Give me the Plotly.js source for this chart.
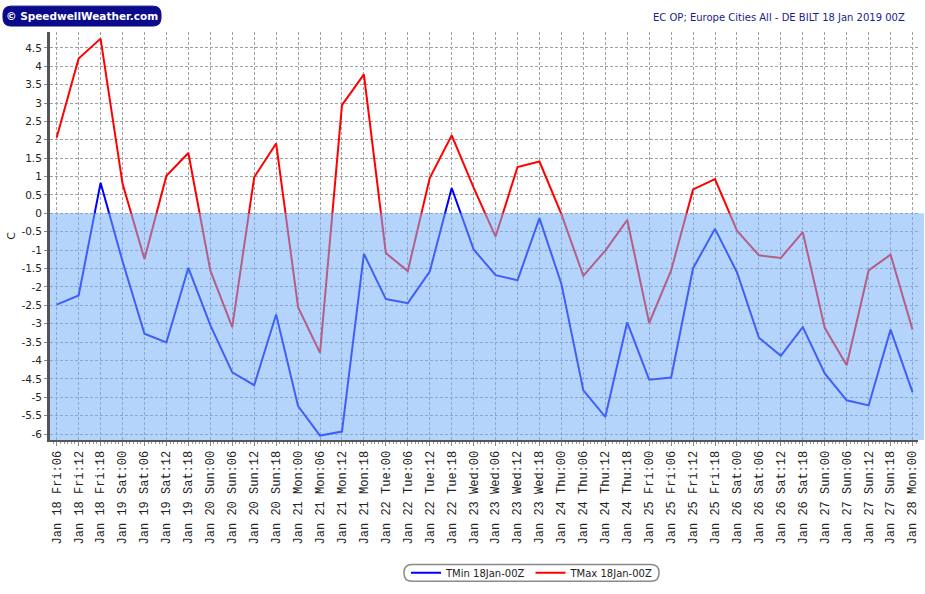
<!DOCTYPE html>
<html>
<head>
<meta charset="utf-8">
<script src="https://cdn.plot.ly/plotly-3.0.1.min.js"></script>
<style>html,body{margin:0;padding:0;background:#fff;}#chart{width:925px;height:594px;}</style>
</head>
<body>
<div id="chart"></div>
<script>
// ---- data ----
var timeLabels = [
  "Jan 18 Fri:06","Jan 18 Fri:12","Jan 18 Fri:18",
  "Jan 19 Sat:00","Jan 19 Sat:06","Jan 19 Sat:12","Jan 19 Sat:18",
  "Jan 20 Sun:00","Jan 20 Sun:06","Jan 20 Sun:12","Jan 20 Sun:18",
  "Jan 21 Mon:00","Jan 21 Mon:06","Jan 21 Mon:12","Jan 21 Mon:18",
  "Jan 22 Tue:00","Jan 22 Tue:06","Jan 22 Tue:12","Jan 22 Tue:18",
  "Jan 23 Wed:00","Jan 23 Wed:06","Jan 23 Wed:12","Jan 23 Wed:18",
  "Jan 24 Thu:00","Jan 24 Thu:06","Jan 24 Thu:12","Jan 24 Thu:18",
  "Jan 25 Fri:00","Jan 25 Fri:06","Jan 25 Fri:12","Jan 25 Fri:18",
  "Jan 26 Sat:00","Jan 26 Sat:06","Jan 26 Sat:12","Jan 26 Sat:18",
  "Jan 27 Sun:00","Jan 27 Sun:06","Jan 27 Sun:12","Jan 27 Sun:18",
  "Jan 28 Mon:00"
];
var tMin = [
  -2.48,-2.23,0.83,-1.30,-3.27,-3.51,-1.48,-3.04,-4.32,-4.67,-2.75,
  -5.24,-6.04,-5.93,-1.10,-2.33,-2.44,-1.58,0.69,-0.98,-1.68,-1.82,
  -0.13,-1.92,-4.81,-5.53,-2.96,-4.52,-4.46,-1.49,-0.42,-1.60,-3.38,
  -3.87,-3.09,-4.35,-5.08,-5.22,-3.16,-4.86
];
var tMax = [
  2.06,4.21,4.75,0.81,-1.24,1.02,1.64,-1.55,-3.09,0.98,1.90,
  -2.55,-3.79,2.94,3.78,-1.08,-1.57,0.96,2.12,0.70,-0.63,1.26,
  1.41,-0.02,-1.70,-1.01,-0.18,-2.98,-1.55,0.65,0.93,-0.47,-1.14,
  -1.21,-0.51,-3.11,-4.13,-1.55,-1.12,-3.16
];
var yTickVals = [4.5,4,3.5,3,2.5,2,1.5,1,0.5,0,-0.5,-1,-1.5,-2,-2.5,-3,-3.5,-4,-4.5,-5,-5.5,-6];
var yTickLabels = ["4.5","4","3.5","3","2.5","2","1.5","1","0.5","0","-0.5","-1","-1.5","-2","-2.5","-3","-3.5","-4","-4.5","-5","-5.5","-6"];
var seriesNames = ["TMin 18Jan-00Z","TMax 18Jan-00Z"];

// ---- layout helpers ----
var W = 925, H = 594, ML = 50, MR = 7, MT = 32, MB = 152;
var PW = W - ML - MR, PH = H - MT - MB;
function px(x){ return (x - ML) / PW; }
function py(y){ return (H - MB - y) / PH; }
function roundRect(x0, y0, x1, y1, r){
  var rx = r / PW, ry = r / PH;
  var a = px(x0), b = px(x1), t = py(y0), u = py(y1);
  return "M" + (a+rx) + "," + t + " L" + (b-rx) + "," + t +
    " Q" + b + "," + t + " " + b + "," + (t-ry) +
    " L" + b + "," + (u+ry) + " Q" + b + "," + u + " " + (b-rx) + "," + u +
    " L" + (a+rx) + "," + u + " Q" + a + "," + u + " " + a + "," + (u+ry) +
    " L" + a + "," + (t-ry) + " Q" + a + "," + t + " " + (a+rx) + "," + t + " Z";
}

var xIdx = timeLabels.map(function(_, i){ return i; });
var yRange = [-6.16, 4.93];

var traces = [
  {x: xIdx, y: tMin, type: "scatter", mode: "lines", name: seriesNames[0],
   line: {color: "#0000ff", width: 2}, hoverinfo: "skip"},
  {x: xIdx, y: tMax, type: "scatter", mode: "lines", name: seriesNames[1],
   line: {color: "#ff0000", width: 2}, hoverinfo: "skip"}
];

var layout = {
  width: W, height: H,
  margin: {l: ML, r: MR, t: MT, b: MB},
  paper_bgcolor: "#ffffff", plot_bgcolor: "#ffffff",
  showlegend: true,
  legend: {orientation: "h", x: px(532), xanchor: "center", y: py(575.5), yanchor: "middle",
           font: {family: "DejaVu Sans, Tahoma, sans-serif", size: 10, color: "#222"},
           bgcolor: "rgba(0,0,0,0)", itemwidth: 30, tracegroupgap: 0},
  xaxis: {
    range: [-0.305, 39.25], tickmode: "array", tickvals: xIdx, ticktext: timeLabels,
    tickangle: -90, tickfont: {family: "Liberation Mono, Courier New, monospace", size: 12, color: "#222"},
    showgrid: true, gridcolor: "#a0a0a0", gridwidth: 1, griddash: "3px,2px",
    zeroline: false, showline: true, linecolor: "#555", linewidth: 2,
    ticks: "outside", ticklen: 4, tickcolor: "#888",
    minor: {dtick: 1/6, tick0: 0, ticks: "outside", ticklen: 2, tickcolor: "#999", showgrid: false},
    fixedrange: true
  },
  yaxis: {
    range: yRange, tickmode: "array", tickvals: yTickVals, ticktext: yTickLabels,
    tickfont: {family: "DejaVu Sans, Tahoma, sans-serif", size: 10.5, color: "#222"},
    showgrid: true, gridcolor: "#a0a0a0", gridwidth: 1, griddash: "3px,2px",
    zeroline: false, showline: true, linecolor: "#555", linewidth: 3,
    ticks: "outside", ticklen: 3, tickcolor: "#888",
    title: {text: "C", font: {family: "DejaVu Sans, Tahoma, sans-serif", size: 11, color: "#222"}, standoff: 4},
    fixedrange: true
  },
  shapes: [
    {type: "rect", xref: "paper", yref: "y", x0: 0, x1: px(924), y0: yRange[0], y1: 0,
     fillcolor: "rgba(117,176,248,0.54)", line: {width: 0}, layer: "above"},
    {type: "path", xref: "paper", yref: "paper", path: roundRect(3, 6, 161, 26, 8),
     fillcolor: "#0a0a8a", line: {color: "#0a0a8a", width: 1}, layer: "above"},
    {type: "path", xref: "paper", yref: "paper", path: roundRect(404, 567, 659, 584, 8),
     fillcolor: "rgba(0,0,0,0)", line: {color: "#8a8a8a", width: 1.5}, layer: "above"}
  ],
  annotations: [
    {xref: "paper", yref: "paper", x: px(82), y: py(16), xanchor: "center", yanchor: "middle",
     text: "<b>© SpeedwellWeather.com</b>", showarrow: false,
     font: {family: "DejaVu Sans, Tahoma, sans-serif", size: 10.5, color: "#ffffff"}},
    {xref: "paper", yref: "paper", x: px(907), y: py(17), xanchor: "right", yanchor: "middle",
     text: "EC OP; Europe Cities All - DE BILT 18 Jan 2019 00Z", showarrow: false,
     font: {family: "DejaVu Sans, Tahoma, sans-serif", size: 10, color: "#1c1c8c"}}
  ]
};

Plotly.newPlot("chart", traces, layout, {displayModeBar: false, staticPlot: true});
</script>
</body>
</html>
